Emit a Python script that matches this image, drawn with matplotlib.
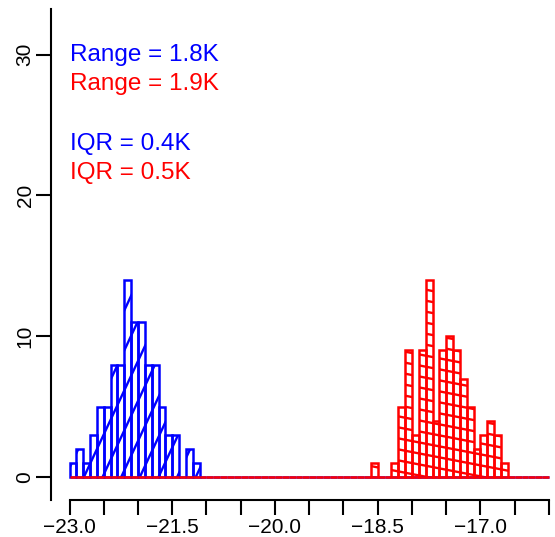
import numpy as np
import matplotlib
matplotlib.use("Agg")
import matplotlib.pyplot as plt
from matplotlib.collections import LineCollection
from matplotlib.path import Path

plt.rcParams['font.family'] = ['Liberation Sans', 'DejaVu Sans']

# Histogram bins (K): 0.1 wide, spanning the whole axis
bin_start = -23.0
bin_stop = -16.0
bin_width = 0.1

# Counts per bin; each series lists consecutive bins from its first bin
blue_first = -23.0
blue_counts = [1, 2, 1, 3, 5, 5, 8, 8, 14, 11, 11, 8, 8, 5, 3, 3, 0, 2, 1]
red_first = -18.6
red_counts = [1, 0, 0, 1, 5, 9, 3, 9, 14, 4, 9, 10, 9, 7, 5, 2, 3, 4, 3, 1]

x_ticks = [-23.0, -22.5, -22.0, -21.5, -21.0, -20.5, -20.0, -19.5,
           -19.0, -18.5, -18.0, -17.5, -17.0, -16.5, -16.0]
x_tick_labels = ['\u221223.0', '', '', '\u221221.5', '', '', '\u221220.0', '',
                 '', '\u221218.5', '', '', '\u221217.0', '', '']
y_ticks = [0, 10, 20, 30]
y_tick_labels = ['0', '10', '20', '30']

notes = [("Range = 1.8K", "blue"), ("Range = 1.9K", "red"),
         ("IQR = 0.4K", "blue"), ("IQR = 0.5K", "red")]

W, H = 555, 537
fig = plt.figure(figsize=(W / 100, H / 100), dpi=100)
ax = fig.add_axes([50.7 / W, (H - 499.5) / H, (W - 50.7) / W, 491.0 / H])
ax.set_xlim(-23.2745, -15.912)
ax.set_ylim(-1.576, 33.27)

n_bins = int(round((bin_stop - bin_start) / bin_width))
left_edges = bin_start + bin_width * np.arange(n_bins)


def full_counts(first, counts):
    arr = np.zeros(n_bins)
    i0 = int(round((first - bin_start) / bin_width))
    arr[i0:i0 + len(counts)] = counts
    return arr


def shade(heights, color, angle_deg, spacing_px, lw):
    """Parallel hatch lines clipped to the non-empty bars."""
    verts, codes = [], []
    for x0, h in zip(left_edges, heights):
        if h <= 0:
            continue
        x1 = x0 + bin_width
        verts += [(x0, 0), (x1, 0), (x1, h), (x0, h), (x0, 0)]
        codes += [Path.MOVETO, Path.LINETO, Path.LINETO, Path.LINETO, Path.CLOSEPOLY]
    clip = Path(verts, codes)

    bb = ax.bbox
    th = np.deg2rad(angle_deg)
    d = np.array([np.cos(th), np.sin(th)])
    nrm = np.array([-np.sin(th), np.cos(th)])
    corners = np.array([[bb.x0, bb.y0], [bb.x1, bb.y0], [bb.x0, bb.y1], [bb.x1, bb.y1]])
    proj = corners @ nrm
    offs = np.arange(np.floor(proj.min() / spacing_px) * spacing_px,
                     proj.max() + spacing_px, spacing_px)
    L = np.hypot(bb.width, bb.height) * 2
    inv = ax.transData.inverted()
    segs = []
    for c in offs:
        p = c * nrm
        segs.append(inv.transform(np.array([p - L * d, p + L * d])))
    lc = LineCollection(segs, colors=color, linewidths=lw, zorder=2)
    lc.set_clip_path(clip, ax.transData)
    ax.add_collection(lc, autolim=False)


blue = full_counts(blue_first, blue_counts)
red = full_counts(red_first, red_counts)

shade(blue, (0, 0, 1), 65, 16.9, 1.7)
ax.bar(left_edges, blue, width=bin_width, align='edge', fill=False,
       edgecolor=(0, 0, 1), linewidth=1.8, zorder=3)
shade(red, (1, 0, 0), -11, 10.8, 1.7)
ax.bar(left_edges, red, width=bin_width, align='edge', fill=False,
       edgecolor=(1, 0, 0), linewidth=1.8, zorder=4)

ax.set_xlim(-23.2745, -15.912)
ax.set_ylim(-1.576, 33.27)

for s in ('top', 'right'):
    ax.spines[s].set_visible(False)
ax.spines['left'].set_linewidth(1.5)
ax.spines['bottom'].set_linewidth(1.5)
ax.spines['bottom'].set_bounds(-23.0, -16.0)

ax.set_xticks(x_ticks)
ax.set_xticklabels(x_tick_labels)
ax.set_yticks(y_ticks)
ax.set_yticklabels(y_tick_labels)
ax.tick_params(direction='out', length=10.6, width=1.5, labelsize=15, color='black')
ax.tick_params(axis='x', pad=3)
ax.tick_params(axis='y', labelrotation=90, pad=1)
for lab in ax.get_yticklabels():
    lab.set_va('center')

baselines = [61, 90, 150, 178.5]
for (txt, col), yb in zip(notes, baselines):
    fig.text(70 / W, 1 - yb / H, txt, color=col, fontsize=17.5, va='baseline', ha='left')

fig.savefig("out.png", dpi=100)
